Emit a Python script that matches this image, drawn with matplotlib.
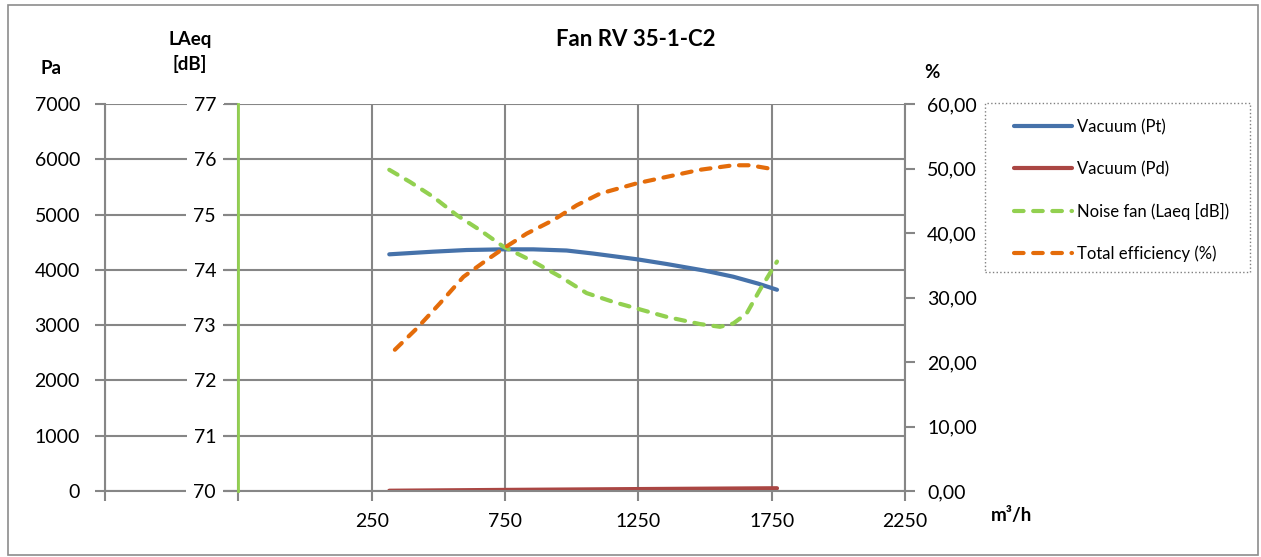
import matplotlib.pyplot as plt
from matplotlib.patches import Rectangle
from matplotlib.ticker import FixedLocator

plt.rcParams['font.family'] = ['Lato', 'DejaVu Sans']

# flow m3/h and readings for each series
pt_flow = [316, 481, 606, 744, 856, 981, 1081, 1245, 1356, 1500, 1606, 1700, 1770]
pt_pa = [4281, 4329, 4359, 4371, 4371, 4350, 4295, 4191, 4106, 3985, 3876, 3750, 3640]

pd_flow = [316, 750, 1250, 1770]
pd_pa = [5, 20, 35, 50]

noise_flow = [316, 394, 481, 569, 656, 744, 856, 956, 1056, 1156, 1245, 1356, 1481,
              1556, 1606, 1656, 1706, 1770]
noise_db = [75.81, 75.59, 75.32, 74.99, 74.72, 74.42, 74.15, 73.88, 73.58, 73.42,
            73.30, 73.15, 73.02, 72.97, 73.03, 73.21, 73.64, 74.15]

eff_flow = [337, 419, 506, 594, 681, 744, 831, 931, 1019, 1106, 1244, 1356, 1481,
            1606, 1669, 1769]
eff_pct = [21.9, 25.2, 29.1, 33.2, 35.8, 37.6, 39.9, 42.0, 44.3, 46.1, 47.7, 48.7,
           49.8, 50.5, 50.5, 49.8]

x_ticks = [-750, -250, 250, 750, 1250, 1750, 2250]
x_labels = ['', '', '250', '750', '1250', '1750', '2250']

grey = '#868686'
c_pt = '#4672AA'
c_pd = '#AA4643'
c_noise = '#92D050'
c_eff = '#E46C0A'
fs = 14

fig = plt.figure(figsize=(12.61, 5.57), dpi=100)
fig.patches.append(Rectangle((0.006, 0.004), 0.992, 0.987, transform=fig.transFigure,
                             fill=False, edgecolor='#8c8c8c', lw=1.2))
# legend frame
fig.patches.append(Rectangle((985 / 1261, 1 - 272 / 557), 265 / 1261, 169 / 557,
                             transform=fig.transFigure, fill=False,
                             edgecolor='#808080', lw=1, ls=':'))

ax = fig.add_axes([105 / 1261, 1 - 491 / 557, 800 / 1261, 387 / 557])
ax.set_xlim(-750, 2250)
ax.set_ylim(0, 7000)
ax.set_xticks(x_ticks)
ax.set_xticklabels(x_labels)
ax.set_yticks(range(0, 7001, 1000))
ax.grid(True, color=grey, lw=1.5)
for s in ['top', 'right']:
    ax.spines[s].set_visible(False)
for s in ['left', 'bottom']:
    ax.spines[s].set_color(grey)
    ax.spines[s].set_linewidth(1.5)
ax.tick_params(axis='both', colors=grey, labelcolor='black', labelsize=fs,
               length=7, width=1.5)
ax.tick_params(axis='x', pad=9)
ax.tick_params(axis='y', pad=11)

l1, = ax.plot(pt_flow, pt_pa, color=c_pt, lw=3, solid_capstyle='round', label='Vacuum (Pt)')
l2, = ax.plot(pd_flow, pd_pa, color=c_pd, lw=3, solid_capstyle='round', label='Vacuum (Pd)')

# LAeq axis in the middle
ax2 = ax.twinx()
ax2.set_ylim(70, 77)
ax2.yaxis.set_ticks_position('left')
ax2.spines['left'].set_position(('data', -250))
ax2.spines['left'].set_color(c_noise)
ax2.spines['left'].set_linewidth(2)
for s in ['top', 'right', 'bottom']:
    ax2.spines[s].set_visible(False)
ax2.yaxis.set_major_locator(FixedLocator(range(70, 78)))
ax2.tick_params(axis='y', colors=grey, labelcolor='black', labelsize=fs,
                length=10, width=1.5, pad=6)
for t in ax2.get_yticklabels():
    t.set_bbox(dict(facecolor='white', edgecolor='none', pad=5))
l3, = ax2.plot(noise_flow, noise_db, color=c_noise, lw=3, ls=(0, (2.3, 2.3)),
               dash_capstyle='round', label='Noise fan (Laeq [dB])')

# efficiency axis on the right
ax3 = ax.twinx()
ax3.set_ylim(0, 60)
ax3.set_yticks(range(0, 61, 10))
ax3.set_yticklabels(['%d,00' % v for v in range(0, 61, 10)])
for s in ['top', 'left', 'bottom']:
    ax3.spines[s].set_visible(False)
ax3.spines['right'].set_color(grey)
ax3.spines['right'].set_linewidth(1.5)
ax3.tick_params(axis='y', colors=grey, labelcolor='black', labelsize=fs,
                length=7, width=1.5, pad=9)
l4, = ax3.plot(eff_flow, eff_pct, color=c_eff, lw=3, ls=(0, (2.3, 2.3)),
               dash_capstyle='round', label='Total efficiency (%)')

fig.text(0.504, 1 - 40 / 557, 'Fan RV 35-1-C2', ha='center', va='center', fontsize=16,
         fontweight='bold')
fig.text(51 / 1261, 1 - 68 / 557, 'Pa', ha='center', va='center', fontsize=13.5,
         fontweight='bold')
fig.text(190 / 1261, 1 - 52 / 557, 'LAeq\n[dB]', ha='center', va='center', fontsize=13.5,
         fontweight='bold', linespacing=1.45)
fig.text(932 / 1261, 1 - 72 / 557, '%', ha='center', va='center', fontsize=13.5,
         fontweight='bold')
fig.text(1012 / 1261, 1 - 516 / 557, 'm³/h', ha='center', va='center', fontsize=13.5,
         fontweight='bold')

leg = fig.legend(handles=[l1, l2, l3, l4], loc='upper left',
                 bbox_to_anchor=(1009 / 1261, 1 - 114 / 557), fontsize=12,
                 handlelength=3.5, handletextpad=0.3, labelspacing=1.55,
                 borderpad=0.3, borderaxespad=0, frameon=False)

fig.savefig('out.png', dpi=100)
